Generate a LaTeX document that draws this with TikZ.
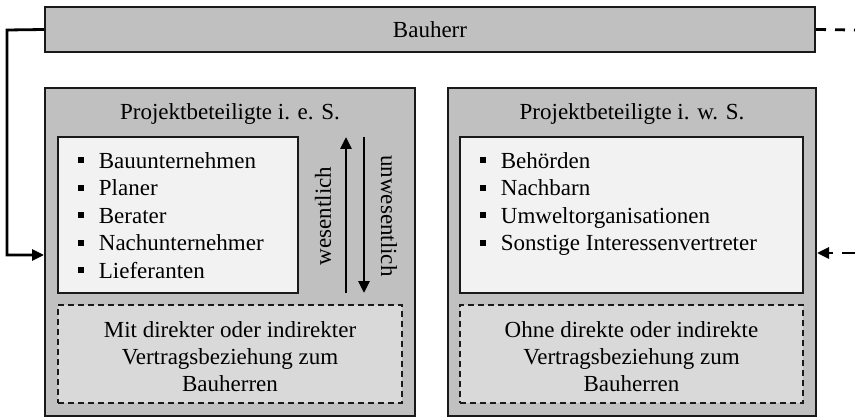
\documentclass[tikz,border=0pt]{standalone}
\usepackage{fontspec}
\setmainfont{Liberation Serif}
\usetikzlibrary{arrows.meta}
\definecolor{outergray}{HTML}{C0C0C0}
\definecolor{innerwhite}{HTML}{F2F2F2}
\definecolor{dashgray}{HTML}{D9D9D9}
\newcommand{\bulsq}{\rule[0.22em]{0.25em}{0.25em}\hspace{0.65em}}
\tikzset{
  panel/.style={draw=black!90, line width=2pt, fill=outergray, rectangle, inner sep=0pt},
  listbox/.style={draw=black!90, line width=2pt, fill=innerwhite, rectangle, inner sep=0pt},
  contractbox/.style={draw=black!90, line width=1.5pt, dash pattern=on 6pt off 4pt, fill=dashgray, rectangle,
    inner sep=0pt, align=center, font=\fontsize{23}{27}\selectfont},
  label/.style={font=\fontsize{23}{27}\selectfont, inner sep=0pt},
  listtext/.style={font=\fontsize{23}{27.5}\selectfont, align=left, inner sep=0pt, anchor=north west},
  link/.style={line width=2.8pt, -{Triangle[length=12pt,width=11pt]}},
}
\begin{document}
\begin{tikzpicture}[x=1pt, y=-1pt]
\useasboundingbox (0,0) rectangle (855,417);

% client bar
\node[panel, minimum width=770, minimum height=45] (bauherr) at (430,29.5) {};
\node[label] (bauherrtxt) at (bauherr.center) {Bauherr};

% two groups of participants
\node[panel, minimum width=370, minimum height=327] (left) at (230,252) {};
\node[panel, minimum width=368, minimum height=327] (right) at (632,252) {};
\node[label] (lefttitle) at (230,114) {Projektbeteiligte i. e. S.};
\node[label] (righttitle) at (632,114) {Projektbeteiligte i. w. S.};

% lists
\node[listbox, minimum width=240, minimum height=156] (leftlist) at (178,215) {};
\node[listbox, minimum width=343, minimum height=156] (rightlist) at (631.5,215) {};
\node[listtext] (leftitems) at (78,152) {\bulsq Bauunternehmen\\\bulsq Planer\\\bulsq Berater\\\bulsq Nachunternehmer\\\bulsq Lieferanten};
\node[listtext] (rightitems) at (480,152) {\bulsq Behörden\\\bulsq Nachbarn\\\bulsq Umweltorganisationen\\\bulsq Sonstige Interessenvertreter};

% contract relationship
\node[contractbox, minimum width=344, minimum height=98] (leftcontract) at (230,354) {};
\node[contractbox, minimum width=343, minimum height=98] (rightcontract) at (631.5,354) {};
\node[label, align=center] (lefttext) at (230,357) {Mit direkter oder indirekter\\Vertragsbeziehung zum\\Bauherren};
\node[label, align=center] (righttext) at (631.5,357) {Ohne direkte oder indirekte\\Vertragsbeziehung zum\\Bauherren};

% relevance arrows
\coordinate (upbot) at (346,293);
\coordinate (uptop) at (346,137);
\coordinate (dntop) at (364,137);
\coordinate (dnbot) at (364,293);
\draw[link] (upbot) -- (uptop);
\draw[link] (dntop) -- (dnbot);
\node[label, rotate=90] (wes) at (323,216) {wesentlich};
\node[label, rotate=-90] (unwes) at (389,216) {unwesentlich};

% connectors
\coordinate (leftturn) at (7,30);
\draw[link] (bauherr.west) -- (leftturn) |- ([yshift=-3pt]left.west);
\coordinate (dashend) at (855,30);
\coordinate (dashstart) at (855,253);
\draw[line width=2.8pt, dash pattern=on 10pt off 9pt] (bauherr.east) -- (dashend);
\draw[line width=2.8pt, dash pattern=on 13pt off 9pt, -{Triangle[length=12pt,width=11pt]}] (dashstart) -- (right.east |- dashstart);
\end{tikzpicture}
\end{document}
